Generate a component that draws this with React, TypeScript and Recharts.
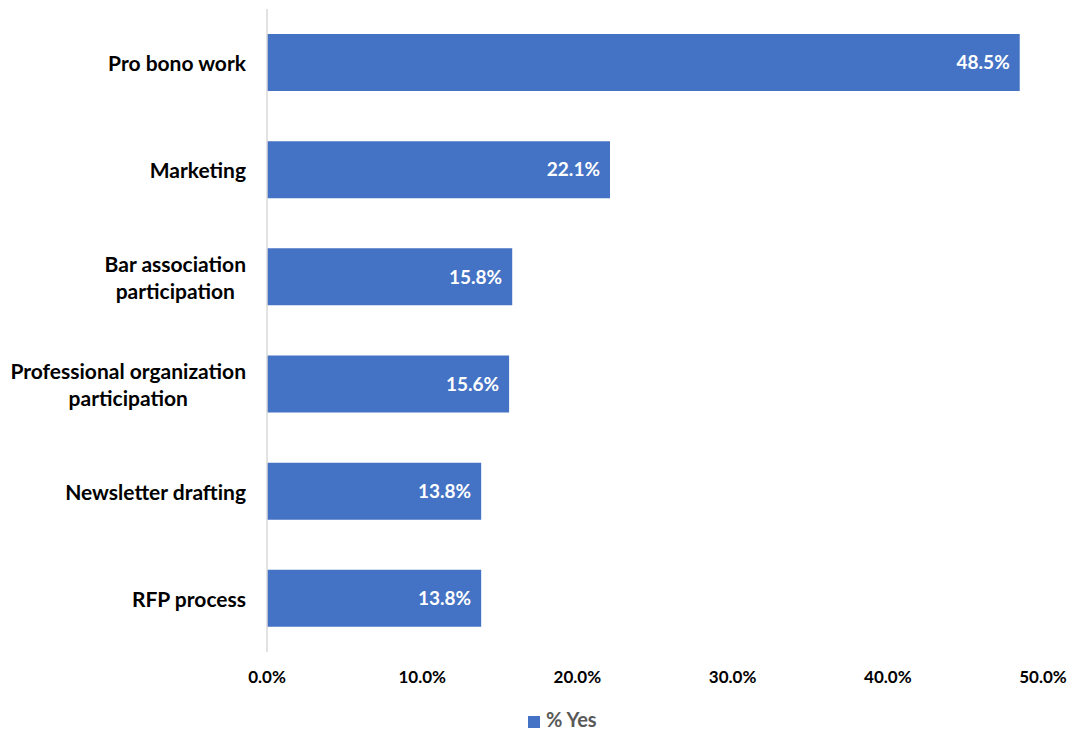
import { BarChart, Bar, XAxis, YAxis, CartesianGrid, Legend, LabelList } from 'recharts'

const categories = [
  'Pro bono work',
  'Marketing',
  'Bar association\nparticipation',
  'Professional organization\nparticipation',
  'Newsletter drafting',
  'RFP process',
]
const yesValues = [48.5, 22.1, 15.8, 15.6, 13.8, 13.8]
const xTicks = [0, 10, 20, 30, 40, 50]

const data = categories.map((name, i) => ({ name, yes: yesValues[i] }))

const font = 'Lato, "Open Sans", sans-serif'

function CategoryTick({ x, y, payload }: any) {
  const lines = String(payload.value).split('\n')
  return (
    <foreignObject x={x - 270} y={y - 30} width={257} height={60}>
      <div
        style={{
          height: '100%',
          display: 'flex',
          justifyContent: 'flex-end',
          alignItems: 'center',
        }}
      >
        <div
          style={{
            textAlign: 'center',
            fontFamily: font,
            fontWeight: 700,
            fontSize: 21,
            lineHeight: '27px',
            color: '#000',
            whiteSpace: 'nowrap',
          }}
        >
          {lines.map((l, i) => (
            <div key={i}>{l}</div>
          ))}
        </div>
      </div>
    </foreignObject>
  )
}

export default function App() {
  return (
    <div style={{ position: 'absolute', left: 0, top: 0, background: '#fff' }}>
      <BarChart
        width={1071}
        height={731}
        data={data}
        layout="vertical"
        margin={{ top: 9, right: 28, bottom: 3, left: 0 }}
        barSize={57}
      >
        <CartesianGrid horizontal={false} vertical={false} />
        <XAxis
          type="number"
          domain={[0, 50]}
          ticks={xTicks}
          tickFormatter={(v: number) => `${v.toFixed(1)}%`}
          axisLine={false}
          tickLine={false}
          tickMargin={13}
          height={48}
          tick={{ fill: '#000', fontFamily: font, fontWeight: 700, fontSize: 17 }}
        />
        <YAxis
          type="category"
          dataKey="name"
          width={267}
          axisLine={{ stroke: '#d9d9d9', strokeWidth: 1.5 }}
          tickLine={false}
          tick={<CategoryTick />}
          interval={0}
        />
        <Legend
          verticalAlign="bottom"
          align="left"
          iconType="square"
          iconSize={12}
          wrapperStyle={{ left: 528, top: 707, width: 'auto', height: 28, fontFamily: font, fontWeight: 700, fontSize: 20 }}
          formatter={(v: string) => <span style={{ color: '#595959', marginLeft: 2 }}>{v}</span>}
        />
        <Bar dataKey="yes" name="% Yes" fill="#4472C4" isAnimationActive={false}>
          <LabelList
            dataKey="yes"
            position="insideRight"
            offset={10}
            formatter={(v: any) => `${Number(v).toFixed(1)}%`}
            style={{ fill: '#fff', fontFamily: font, fontWeight: 700, fontSize: 19 }}
          />
        </Bar>
      </BarChart>
    </div>
  )
}
